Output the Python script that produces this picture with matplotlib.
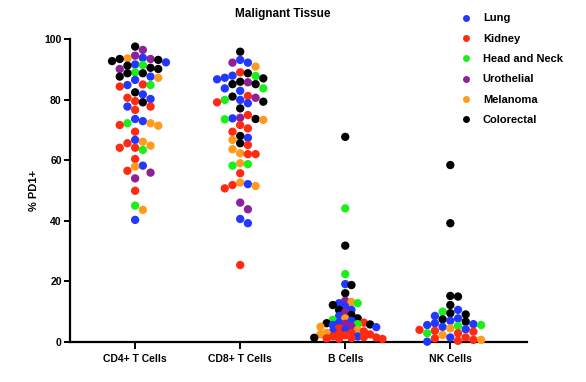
import numpy as np
import matplotlib
matplotlib.use("Agg")
import matplotlib.pyplot as plt
from matplotlib.lines import Line2D

plt.rcParams['font.family'] = ['Liberation Sans', 'DejaVu Sans']
plt.rcParams['font.weight'] = 'bold'

categories = ["CD4+ T Cells", "CD8+ T Cells", "B Cells", "NK Cells"]
groups = ["Lung", "Kidney", "Head and Neck", "Urothelial", "Melanoma", "Colorectal"]
colors = {"Lung": "#2238ff", "Kidney": "#ff2a12", "Head and Neck": "#19f019",
          "Urothelial": "#8e2099", "Melanoma": "#ff9a1c", "Colorectal": "#000000"}

# values per category per group (% PD1+)
cd4_lung = [92.3, 93.8, 91.6, 87.6, 86.5, 84.8, 81.7, 80.2, 77.7, 72.9, 73.6, 66.7, 58.2, 40.3]
cd4_kidney = [85.0, 84.3, 80.6, 79.5, 77.7, 76.6, 71.6, 69.4, 65.6, 64.1, 64.1, 60.4, 56.5, 49.9]
cd4_hn = [91.4, 89.0, 84.8, 72.2, 63.4, 45.0]
cd4_uro = [96.4, 94.5, 93.4, 90.1, 55.9, 54.0]
cd4_mel = [93.6, 87.2, 72.2, 71.4, 66.1, 64.8, 57.9, 43.6]
cd4_crc = [97.5, 93.1, 92.7, 93.4, 91.2, 90.5, 90.1, 88.7, 88.7, 87.6, 82.4, 79.1]

cd8_lung = [93.1, 92.2, 87.9, 86.7, 87.2, 83.7, 82.9, 78.8, 79.9, 73.8, 67.4, 52.1, 40.6, 39.2]
cd8_kidney = [89.0, 81.2, 79.1, 74.9, 70.5, 71.6, 69.4, 65.0, 62.0, 62.0, 55.7, 50.7, 51.8, 25.4]
cd8_hn = [87.8, 83.7, 79.9, 73.5, 58.7, 58.2]
cd8_uro = [92.2, 85.7, 80.6, 74.0, 46.0, 43.8]
cd8_mel = [90.9, 73.3, 66.7, 62.3, 63.6, 59.0, 52.6, 51.5]
cd8_crc = [95.8, 88.7, 85.9, 85.1, 85.1, 87.0, 81.0, 79.3, 77.1, 73.6, 68.0, 65.6]

b_lung = [19.1, 12.8, 11.7, 10.6, 8.6, 7.0, 6.4, 5.6, 4.9, 3.5, 1.8, 4.0]
b_kidney = [6.4, 4.5, 3.5, 3.0, 2.8, 2.5, 2.2, 1.8, 1.5, 1.2, 1.0, 1.3, 1.6, 1.1]
b_hn = [44.1, 22.4, 12.8, 7.3, 5.9]
b_uro = [13.6, 9.8, 6.0, 5.1]
b_mel = [13.2, 7.8, 5.0, 4.0, 3.0, 2.5]
b_crc = [67.7, 31.8, 18.8, 16.1, 12.2, 10.6, 8.9, 7.8, 6.2, 5.8, 1.4]

nk_lung = [10.6, 8.6, 7.8, 7.0, 6.2, 5.9, 5.6, 5.0, 4.2, 1.5, 0.1]
nk_kidney = [4.0, 3.7, 3.4, 2.9, 1.5, 1.2, 0.7, 0.4]
nk_hn = [10.0, 5.6, 5.3, 2.9]
nk_uro = []
nk_mel = [4.5, 2.3, 0.7]
nk_crc = [58.4, 39.2, 15.2, 15.0, 12.2, 9.5, 9.1, 7.5, 6.7]

data = [
    [cd4_lung, cd4_kidney, cd4_hn, cd4_uro, cd4_mel, cd4_crc],
    [cd8_lung, cd8_kidney, cd8_hn, cd8_uro, cd8_mel, cd8_crc],
    [b_lung, b_kidney, b_hn, b_uro, b_mel, b_crc],
    [nk_lung, nk_kidney, nk_hn, nk_uro, nk_mel, nk_crc],
]

W, H = 586, 382
fig = plt.figure(figsize=(W / 100, H / 100), dpi=100)
ax = fig.add_axes([70 / W, 40 / H, 457 / W, 303 / H])
ax.set_xlim(-0.62, 3.73)
ax.set_ylim(0, 100)

# layout: Prism-like column swarm in pixel space
px_per_x = 457 / (3.73 + 0.62)
px_per_y = 303 / 100.0
col_px_by_cat = [7.7, 7.7, 6.2, 7.7]
min_dy_by_cat = [7.2, 7.2, 5.0, 7.0]
order = [0]
for n in range(1, 20):
    order += [n, -n]
for ci, cat in enumerate(data):
    min_dy_px = min_dy_by_cat[ci]
    col_px = col_px_by_cat[ci]
    pts = []
    for gi, vals in enumerate(cat):
        for v in vals:
            pts.append((v, gi))
    pts.sort(key=lambda p: -p[0])
    placed = []  # (col, ypx)
    xs, ys, cs = [], [], []
    for v, gi in pts:
        ypx = v * px_per_y
        for col in order:
            if all(not (c == col and abs(yy - ypx) < min_dy_px) for c, yy in placed):
                break
        placed.append((col, ypx))
        xs.append(ci + col * col_px / px_per_x)
        ys.append(v)
        cs.append(colors[groups[gi]])
    ax.scatter(xs, ys, s=36, c=cs, linewidths=0, clip_on=False, zorder=3)

for s in ['top', 'right']:
    ax.spines[s].set_visible(False)
for s in ['left', 'bottom']:
    ax.spines[s].set_linewidth(1.6)
ax.set_xticks(range(4))
ax.set_xticklabels(categories, fontsize=7.5, fontweight='bold')
ax.set_yticks([0, 20, 40, 60, 80, 100])
ax.tick_params(axis='both', width=1.4, length=4, labelsize=7.5, pad=2)
ax.tick_params(axis='x', length=5, pad=4)
for t in ax.get_yticklabels():
    t.set_fontweight('bold')
ax.set_ylabel("% PD1+", fontsize=8, fontweight='bold', labelpad=4)

fig.text(283 / W, 1 - 14 / H, "Malignant Tissue", ha='center', va='center',
         fontsize=8.5, fontweight='bold')

handles = [Line2D([], [], marker='o', linestyle='none', markersize=5,
                  markerfacecolor=colors[g], markeredgewidth=0) for g in groups]
fig.legend(handles, groups, loc='upper left', bbox_to_anchor=(455 / W, 1 - 9 / H),
           frameon=False, prop={'size': 8, 'weight': 'bold'}, labelspacing=0.93,
           handletextpad=0.9, handlelength=1.2, borderaxespad=0)

fig.savefig("out.png", dpi=100)
